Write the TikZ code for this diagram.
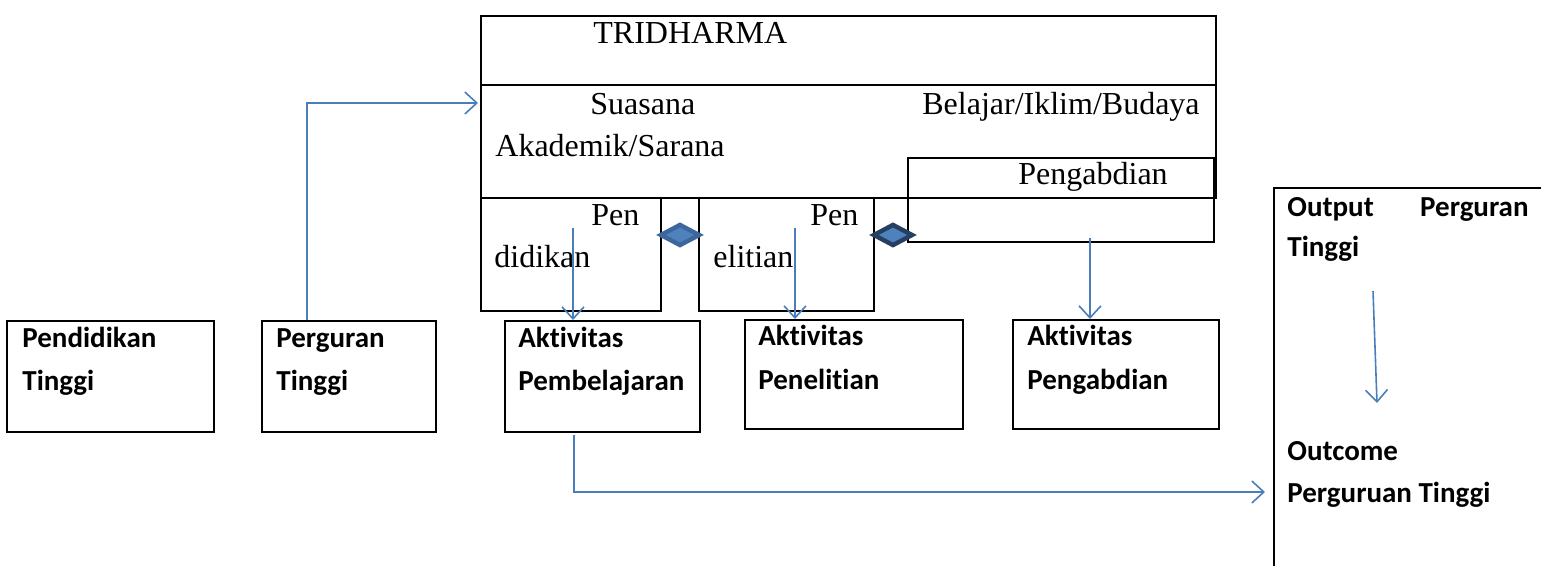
\documentclass[tikz,border=0pt]{standalone}
\usepackage{fontspec}
\setmainfont{Liberation Serif}
\newfontfamily\calibri[Ligatures={NoCommon,NoRare},Contextuals=NoAlternate]{Carlito}
\usetikzlibrary{arrows.meta,calc,shapes.geometric}
\definecolor{garisbiru}{HTML}{4A7EBB}
\definecolor{isibiru}{HTML}{4F81BD}
\definecolor{tepibiru}{HTML}{3B679E}
\definecolor{tepigelap}{HTML}{243F60}

\begin{document}
\begin{tikzpicture}[x=0.5pt,y=-0.5pt,
    blok/.style 2 args={draw,line width=1pt,anchor=north west,inner sep=0pt,
      minimum width=#1*0.5pt,minimum height=#2*0.5pt},
    teks/.style={anchor=base west,inner sep=0pt,font=\fontsize{16}{19}\selectfont},
    tebal/.style={anchor=base west,inner sep=0pt,font=\calibri\bfseries\fontsize{14.5}{17}\selectfont},
    panah/.style={draw=garisbiru,line width=0.8pt,-{Straight Barb[length=6pt,width=11pt]}},
    wajik/.style={diamond,fill=isibiru,line width=2.2pt,inner sep=0pt,
      minimum width=20pt,minimum height=11pt}]

  \useasboundingbox (0,0) rectangle (1541,566);

  \node[blok={735}{182}] (tri) at (480,15) {};
  \draw[line width=1pt] ($(tri.north west)+(0,70)$) -- ($(tri.north east)+(0,70)$);
  \node[blok={306}{84}] (abdi) at (907,157) {};
  \node[blok={180}{113}] (didik) at (480,197) {};
  \node[blok={175}{113}] (teliti) at (698,197) {};
  \node[wajik,draw=tepibiru] (w1) at (680,235) {};
  \node[wajik,draw=tepigelap] (w2) at (893,235) {};

  \node[teks] (tt) at (593,44) {TRIDHARMA};
  \node[teks] (ts) at (590,115) {Suasana};
  \node[teks,anchor=base east] (tb) at (1200,115) {Belajar/Iklim/Budaya};
  \node[teks] (ta) at (495,157) {Akademik/Sarana};
  \node[teks] (tp) at (1018,185) {Pengabdian};
  \node[teks] (td1) at (591,226) {Pen};
  \node[teks] (td2) at (494,268) {didikan};
  \node[teks] (te1) at (810,226) {Pen};
  \node[teks] (te2) at (713,268) {elitian};

  \node[blok={207}{111}] (pt1) at (6,320) {};
  \node[blok={174}{111}] (pt2) at (261,320) {};
  \node[blok={195}{111}] (akt1) at (504,320) {};
  \node[blok={218}{109}] (akt2) at (744,319) {};
  \node[blok={206}{109}] (akt3) at (1012,319) {};
  \node[blok={320}{420}] (out) at (1273,187) {};

  \node[tebal] (l1a) at (22,348) {Pendidikan};
  \node[tebal] (l1b) at (22,391) {Tinggi};
  \node[tebal] (l2a) at (276,348) {Perguran};
  \node[tebal] (l2b) at (276,391) {Tinggi};
  \node[tebal] (l3a) at (518,348) {Aktivitas};
  \node[tebal] (l3b) at (518,391) {Pembelajaran};
  \node[tebal] (l4a) at (758,346) {Aktivitas};
  \node[tebal] (l4b) at (758,389) {Penelitian};
  \node[tebal] (l5a) at (1027,346) {Aktivitas};
  \node[tebal] (l5b) at (1027,389) {Pengabdian};
  \node[tebal] (o1) at (1287,217) {Output};
  \node[tebal,anchor=base east] (o2) at (1529,217) {Perguran};
  \node[tebal] (o3) at (1287,257) {Tinggi};
  \node[tebal] (o4) at (1287,460) {Outcome};
  \node[tebal] (o5) at (1287,502) {Perguruan Tinggi};

  \draw[panah] ($(pt2.north west)+(46,0)$) |- ($(tri.north west)+(-2,88)$);
  \draw[panah] ($(didik.north west)+(93,31)$) -- ($(akt1.north west)+(69,0)$);
  \draw[panah] ($(teliti.north west)+(97,31)$) -- ($(akt2.north west)+(51,0)$);
  \draw[panah] ($(abdi.north west)+(183,81)$) -- ($(akt3.north west)+(78,0)$);
  \draw[panah] ($(out.north west)+(100,104)$) -- ($(out.north west)+(104,216)$);
  \draw[panah] ($(akt1.south west)+(70,2)$) |- ($(out.north west)+(-8,305)$);

\end{tikzpicture}
\end{document}
